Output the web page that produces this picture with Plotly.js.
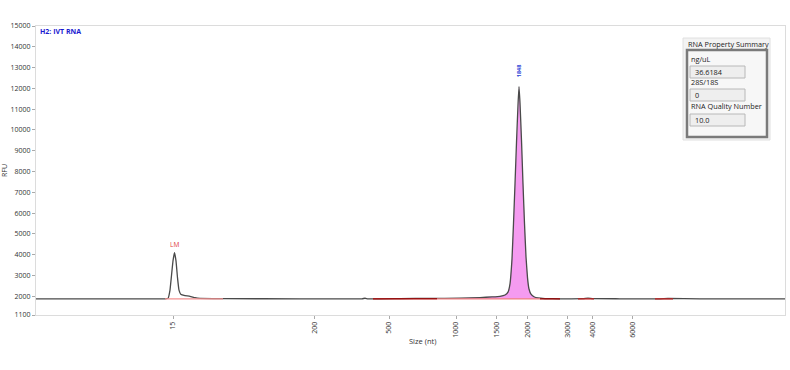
<!DOCTYPE html>
<html>
<head>
<meta charset="utf-8">
<script src="https://cdn.plot.ly/plotly-3.0.1.min.js"></script>
<style>html,body{margin:0;padding:0;background:#fff;}#chart{width:790px;height:370px;}</style>
</head>
<body>
<div id="chart"></div>
<script>
// Electropherogram signal (migration position units vs RFU)
const migration = [36, 120, 165, 168, 170, 171.5, 173, 174.5, 176, 177.5, 179, 181, 185, 190, 195, 200, 225, 300, 362, 365, 368, 400, 430, 460, 480, 492, 500, 505, 508, 510, 512, 513.5, 515, 516.5, 518, 519, 520, 521.5, 523, 524.5, 526, 527.5, 529, 531, 534, 538, 545, 560, 583, 588, 593, 620, 660, 668, 700, 785];
const rfu =       [1880, 1880, 1880, 1900, 2300, 3000, 3700, 4100, 3700, 2900, 2300, 2080, 2030, 2000, 1930, 1895, 1885, 1880, 1880, 1905, 1880, 1890, 1900, 1910, 1940, 1970, 2000, 2060, 2200, 2600, 3800, 5500, 7400, 9400, 11200, 12080, 11300, 9500, 7400, 5500, 3900, 2900, 2350, 2100, 1980, 1920, 1890, 1880, 1885, 1915, 1885, 1880, 1880, 1895, 1880, 1880];

const baselineRFU = 1875;
// Integrated baseline segments (start, end) in migration units
const segStart = [165, 373, 437, 540, 578, 655];
const segEnd   = [223, 437, 540, 560, 594, 673];
const segColor = ['#f29090', '#b00000', '#f08080', '#a00000', '#c02020', '#c02020'];

// Peak-filled region
const peakFillStart = 437, peakFillEnd = 540;

// Axis ticks
const sizeTickPos = [173, 314.5, 389, 456, 496.5, 527.5, 567.5, 592.5, 632.5];
const sizeLabels  = ['15', '200', '500', '1000', '1500', '2000', '3000', '4000', '6000'];
const rfuTicks = [1100, 2000, 3000, 4000, 5000, 6000, 7000, 8000, 9000, 10000, 11000, 12000, 13000, 14000, 15000];

// Peak labels
const peakLabels = [{x: 174.5, y: 4100, text: 'LM', color: '#e03c3c', angle: 0},
                    {x: 519, y: 12080, text: '<b>1848</b>', color: '#2b3fd6', angle: -90}];

// Summary panel
const summaryTitle = 'RNA Property Summary';
const summaryFields = ['ng/uL', '28S/18S', 'RNA Quality Number'];
const summaryValues = ['36.6184', '0', '10.0'];

function subset(a, b) {
  const xs = [], ys = [];
  for (let i = 0; i < migration.length; i++) {
    if (migration[i] >= a && migration[i] <= b) { xs.push(migration[i]); ys.push(rfu[i]); }
  }
  return {xs, ys};
}

const traces = [];
// pink fill under main peak
const pf = subset(peakFillStart, peakFillEnd);
traces.push({x: [peakFillStart, peakFillEnd], y: [baselineRFU, baselineRFU], mode: 'lines', line: {color: 'rgba(0,0,0,0)', width: 0}, hoverinfo: 'skip', showlegend: false});
traces.push({x: pf.xs, y: pf.ys, mode: 'lines', fill: 'tonexty', fillcolor: '#f59bf0', line: {color: 'rgba(0,0,0,0)', width: 0}, hoverinfo: 'skip', showlegend: false});
// signal
traces.push({x: migration, y: rfu, mode: 'lines', line: {color: '#4a4a4a', width: 1.3, shape: 'spline', smoothing: 0.3}, showlegend: false});
// baseline segments
for (let i = 0; i < segStart.length; i++) {
  traces.push({x: [segStart[i], segEnd[i]], y: [baselineRFU, baselineRFU], mode: 'lines', line: {color: segColor[i], width: 1.3}, showlegend: false, hoverinfo: 'skip'});
}

// pixel -> paper helpers (plot area 36..785 x, 26..315 y)
const L = 36, R = 785, T = 26, B = 315;
const px = p => (p - L) / (R - L);
const py = p => (B - p) / (B - T);

const shapes = [
  {type: 'rect', xref: 'paper', yref: 'paper', x0: px(683), x1: px(770), y0: py(140), y1: py(38), fillcolor: '#f3f3f3', line: {color: '#e0e0e0', width: 1}, layer: 'above'},
  {type: 'rect', xref: 'paper', yref: 'paper', x0: px(687), x1: px(767), y0: py(137), y1: py(50), fillcolor: '#f7f7f7', line: {color: '#7a7a7a', width: 2.5}, layer: 'above'},
];
const fieldY = [59, 82, 106];
const boxY = [[66, 78], [89, 101], [114, 126]];
const fs = 7.3;
const annotations = [
  {xref: 'paper', yref: 'paper', x: px(38), y: py(31), text: '<b>H2: IVT RNA</b>', showarrow: false, xanchor: 'left', yanchor: 'middle', font: {family: 'Open Sans, sans-serif', size: 7, color: '#1a1ad0'}},
  {xref: 'paper', yref: 'paper', x: px(422), y: py(341), text: 'Size (nt)', showarrow: false, xanchor: 'center', yanchor: 'middle', font: {family: 'Open Sans, sans-serif', size: 7.5, color: '#333'}},
  {xref: 'paper', yref: 'paper', x: px(686), y: py(44), text: summaryTitle, showarrow: false, xanchor: 'left', yanchor: 'middle', font: {family: 'Open Sans, sans-serif', size: fs, color: '#222'}},
];
for (let i = 0; i < summaryFields.length; i++) {
  shapes.push({type: 'rect', xref: 'paper', yref: 'paper', x0: px(690), x1: px(745), y0: py(boxY[i][1]), y1: py(boxY[i][0]), fillcolor: '#eeeeee', line: {color: '#b8b8b8', width: 1}, layer: 'above'});
  annotations.push({xref: 'paper', yref: 'paper', x: px(689), y: py(fieldY[i]), text: summaryFields[i], showarrow: false, xanchor: 'left', yanchor: 'middle', font: {family: 'Open Sans, sans-serif', size: fs, color: '#222'}});
  annotations.push({xref: 'paper', yref: 'paper', x: px(693), y: py((boxY[i][0] + boxY[i][1]) / 2), text: summaryValues[i], showarrow: false, xanchor: 'left', yanchor: 'middle', font: {family: 'Open Sans, sans-serif', size: fs, color: '#222'}});
}
for (const p of peakLabels) {
  annotations.push({x: p.x, y: p.y, xref: 'x', yref: 'y', text: p.text, showarrow: false, textangle: p.angle, yshift: p.angle ? 7 : 2, xanchor: 'center', yanchor: 'bottom', font: {family: 'Open Sans, sans-serif', size: p.angle ? 5.5 : 6.5, color: p.color}});
}

const layout = {
  width: 790, height: 370,
  margin: {l: L, r: 790 - R, t: T, b: 370 - B, pad: 0},
  paper_bgcolor: '#ffffff', plot_bgcolor: '#ffffff',
  showlegend: false,
  xaxis: {range: [L, R], tickvals: sizeTickPos, ticktext: sizeLabels, tickangle: -90, showgrid: false, zeroline: false,
          showline: true, linecolor: '#dcdcdc', linewidth: 1, mirror: true, ticks: 'outside', ticklen: 3, tickcolor: '#aaaaaa',
          tickfont: {family: 'Open Sans, sans-serif', size: 7, color: '#333'}},
  yaxis: {range: [1100, 15000], tickvals: rfuTicks, ticktext: rfuTicks.map(String), showgrid: false, zeroline: false,
          showline: true, linecolor: '#dcdcdc', linewidth: 1, mirror: true, ticks: 'outside', ticklen: 3, tickcolor: '#aaaaaa',
          tickfont: {family: 'Open Sans, sans-serif', size: 7, color: '#333'},
          title: {text: 'RFU', font: {family: 'Open Sans, sans-serif', size: 7, color: '#333'}, standoff: 4}},
  shapes, annotations,
};
Plotly.newPlot('chart', traces, layout, {staticPlot: true, displayModeBar: false});
</script>
</body>
</html>
